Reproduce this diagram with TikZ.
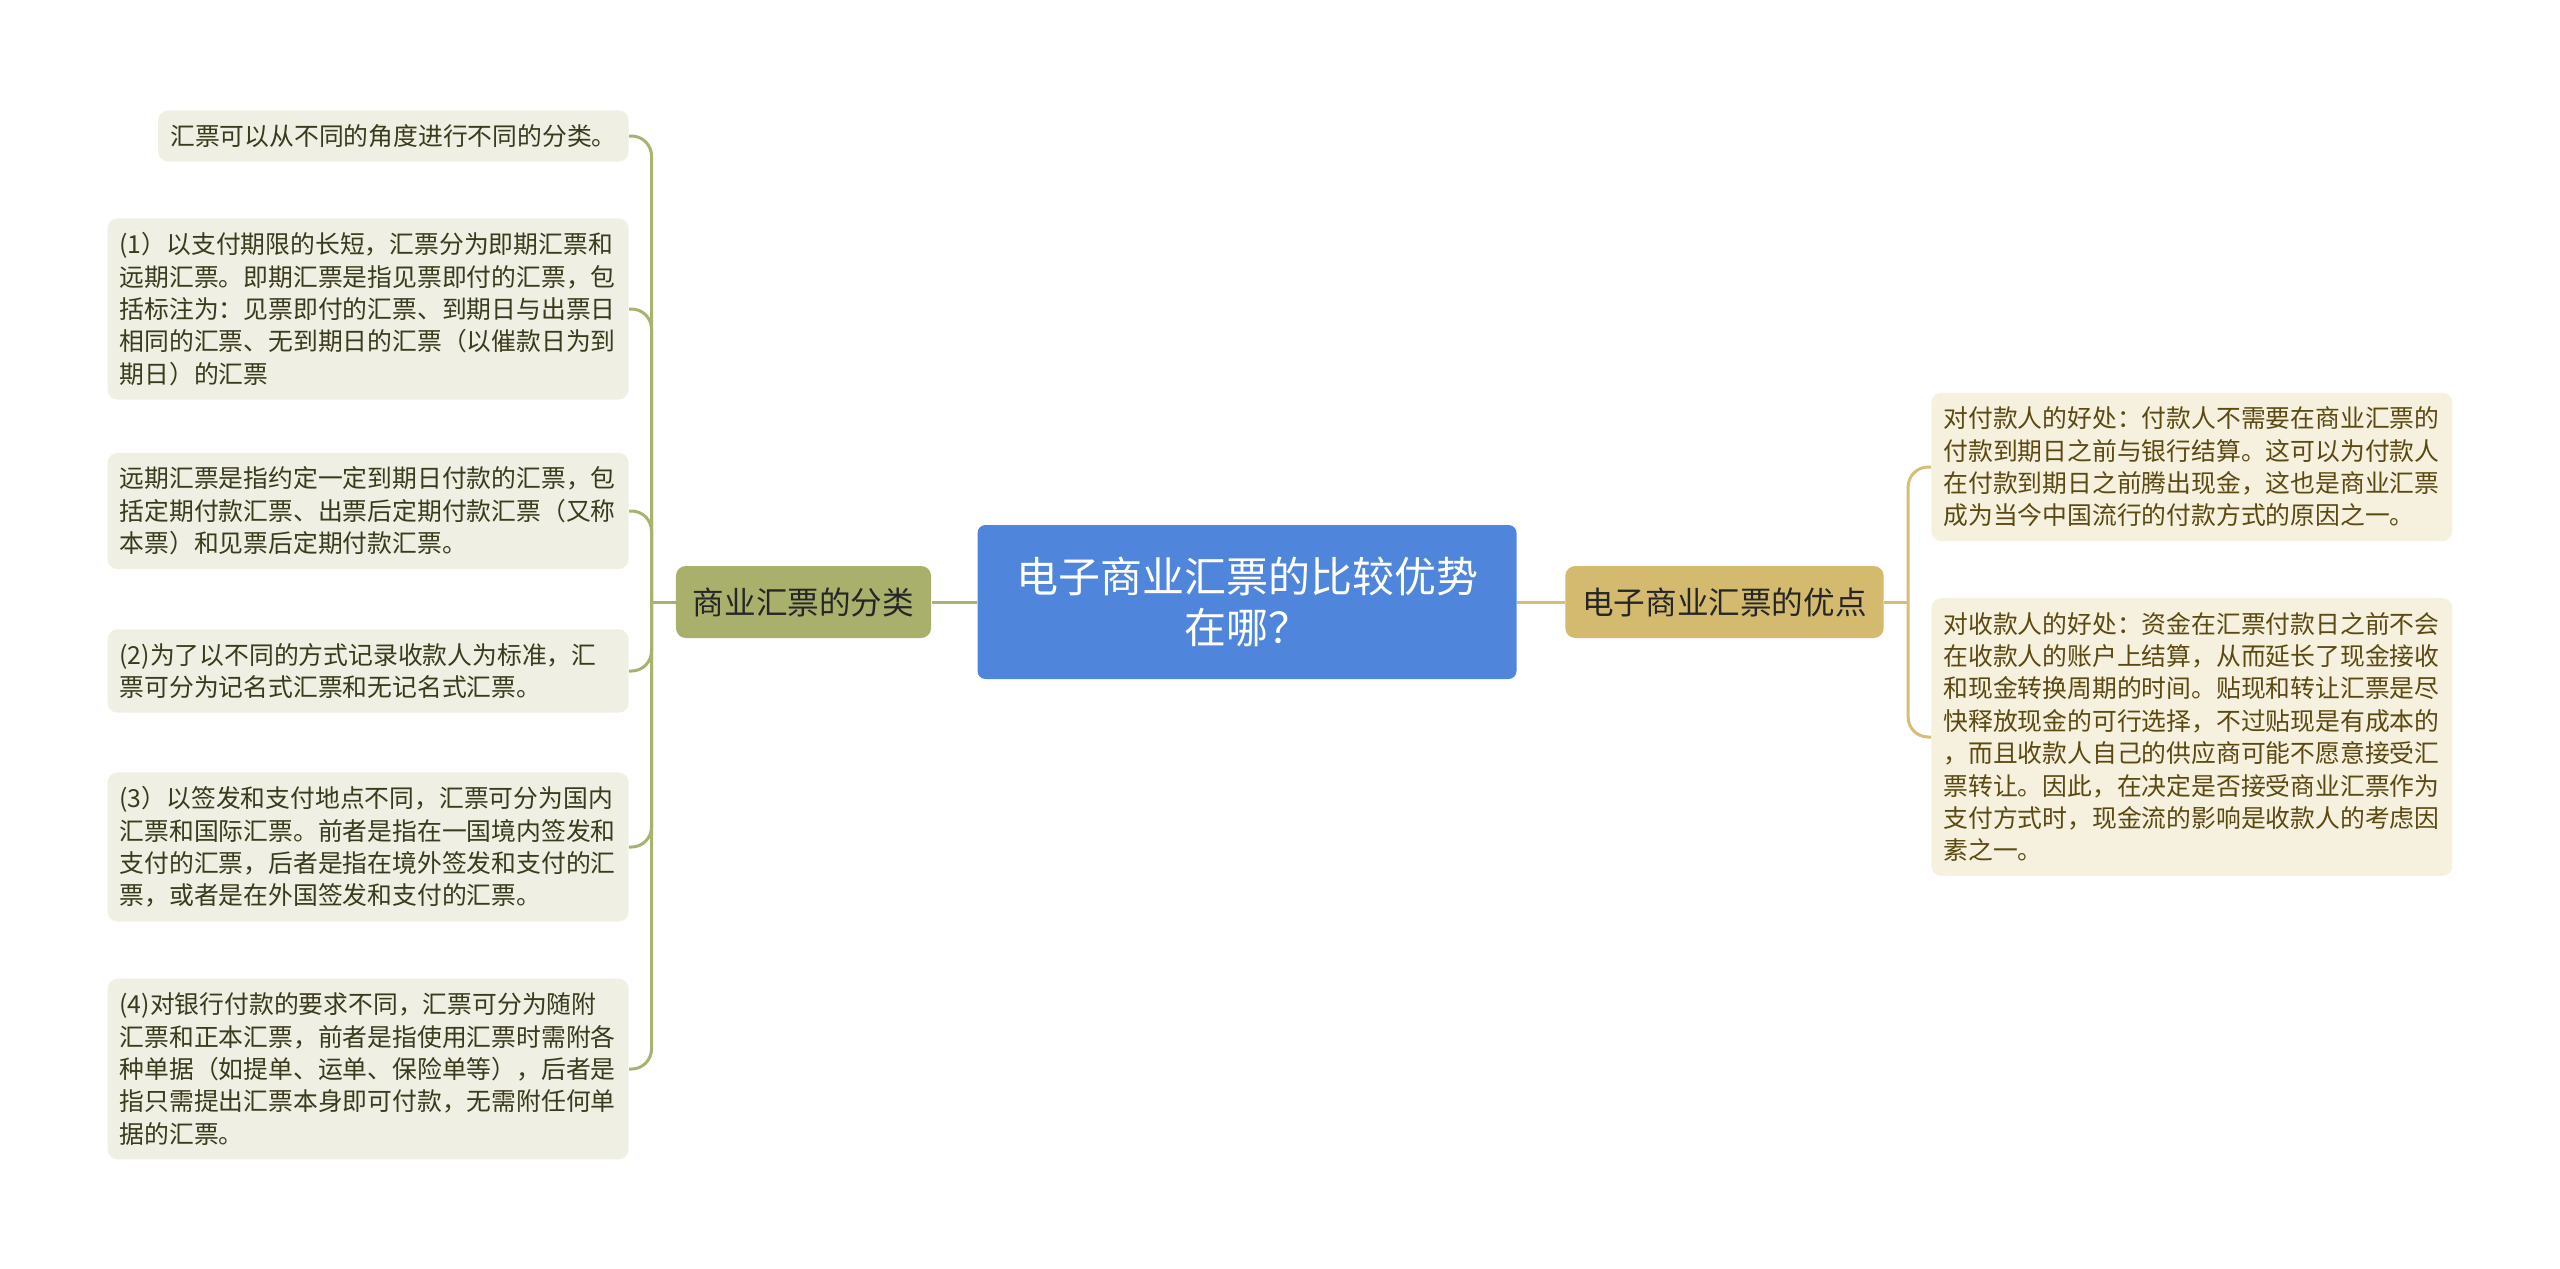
\documentclass[tikz,border=0pt]{standalone}
\usepackage{fontspec}
\setmainfont{Noto Sans CJK SC}
\definecolor{rootblue}{HTML}{4F86DB}
\definecolor{olivemain}{HTML}{A9B06C}
\definecolor{goldmain}{HTML}{D4BA6E}
\definecolor{oliveline}{HTML}{A9B26E}
\definecolor{goldline}{HTML}{D6BE78}
\definecolor{oliveleaf}{HTML}{EFEFE3}
\definecolor{goldleaf}{HTML}{F6F1DE}
\definecolor{olivetext}{HTML}{3A3A1C}
\definecolor{goldtext}{HTML}{5B4912}

\tikzset{
  rootbox/.style={fill=rootblue, text=white, rounded corners=4pt, align=center,
    minimum width=269.5pt, minimum height=77pt,
    font=\fontsize{21pt}{25.3pt}\selectfont},
  mainl/.style={fill=olivemain, text=black!85, rounded corners=5pt,
    inner xsep=8.5pt, minimum height=36pt, font=\fontsize{15.8pt}{19pt}\selectfont},
  mainr/.style={mainl, fill=goldmain},
  leafl/.style={fill=oliveleaf, text=olivetext, rounded corners=5pt, align=left,
    inner xsep=6pt, inner ysep=7pt, anchor=east,
    font=\fontsize{12.4pt}{16.2pt}\selectfont},
  wideleaf/.style={text width=248.5pt},
  leafr/.style={leafl, wideleaf, fill=goldleaf, text=goldtext, anchor=west},
  linkl/.style={draw=oliveline, line width=1.5pt, rounded corners=10pt},
  linkr/.style={linkl, draw=goldline}
}

\begin{document}
\begin{tikzpicture}[x=0.5pt,y=-0.5pt]
            \useasboundingbox (0,0) rectangle (2560,1269);

            % centre
            \node[rootbox] (root) at (1247,602) {电子商业汇票的比较优势\\在哪？};
            \node[mainl] (cls) at (803.5,602) {商业汇票的分类};
            \node[mainr] (adv) at (1724.5,602) {电子商业汇票的优点};

            % left leaves
            \node[leafl] (c0) at (629,136) {汇票可以从不同的角度进行不同的分类。};
            \node[leafl, wideleaf] (c1) at (629,309) {(1）以支付期限的长短，汇票分为即期汇票和\\远期汇票。即期汇票是指见票即付的汇票，包\\括标注为：见票即付的汇票、到期日与出票日\\相同的汇票、无到期日的汇票（以催款日为到\\期日）的汇票};
            \node[leafl, wideleaf] (c2) at (629,511) {远期汇票是指约定一定到期日付款的汇票，包\\括定期付款汇票、出票后定期付款汇票（又称\\本票）和见票后定期付款汇票。};
            \node[leafl, wideleaf] (c3) at (629,671) {(2)为了以不同的方式记录收款人为标准，汇\\票可分为记名式汇票和无记名式汇票。};
            \node[leafl, wideleaf] (c4) at (629,847) {(3）以签发和支付地点不同，汇票可分为国内\\汇票和国际汇票。前者是指在一国境内签发和\\支付的汇票，后者是指在境外签发和支付的汇\\票，或者是在外国签发和支付的汇票。};
            \node[leafl, wideleaf] (c5) at (629,1069) {(4)对银行付款的要求不同，汇票可分为随附\\汇票和正本汇票，前者是指使用汇票时需附各\\种单据（如提单、运单、保险单等），后者是\\指只需提出汇票本身即可付款，无需附任何单\\据的汇票。};

            % right leaves
            \node[leafr] (a0) at (1931,467) {对付款人的好处：付款人不需要在商业汇票的\\付款到期日之前与银行结算。这可以为付款人\\在付款到期日之前腾出现金，这也是商业汇票\\成为当今中国流行的付款方式的原因之一。};
            \node[leafr] (a1) at (1931,737) {对收款人的好处：资金在汇票付款日之前不会\\在收款人的账户上结算，从而延长了现金接收\\和现金转换周期的时间。贴现和转让汇票是尽\\快释放现金的可行选择，不过贴现是有成本的\\，而且收款人自己的供应商可能不愿意接受汇\\票转让。因此，在决定是否接受商业汇票作为\\支付方式时，现金流的影响是收款人的考虑因\\素之一。};

            % links
            \draw[linkl] (root.west) -- (cls.east);
            \draw[linkr] (root.east) -- (adv.west);
            \draw[linkl] (cls.west) -- ++(-24,0) coordinate (jl);
            \draw[linkr] (adv.east) -- ++(24,0) coordinate (jr);
            \foreach \n in {c0,c1,c2,c3,c4,c5}
                \draw[linkl] (jl) |- (\n.east);
            \foreach \n in {a0,a1}
                \draw[linkr] (jr) |- (\n.west);
        \end{tikzpicture}
\end{document}
